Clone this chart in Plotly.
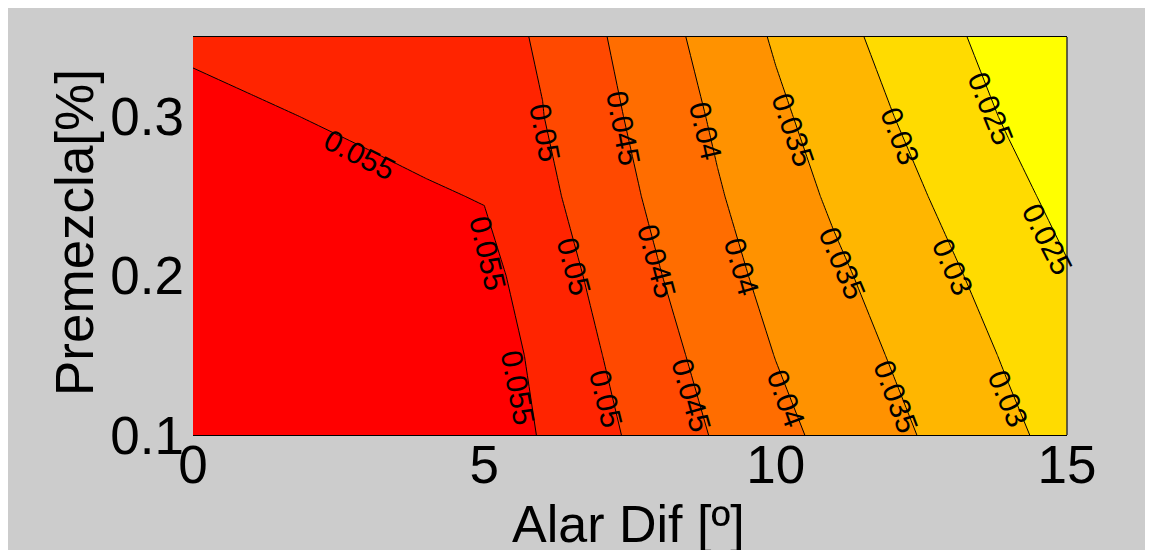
import plotly.graph_objects as go

# Alar Dif [º] grid values
alar_dif = [0, 1, 2, 3, 4, 5, 6, 7, 8, 9, 10, 11, 12, 13, 14, 15]
# Premezcla [%] grid values
premezcla = [0.10, 0.15, 0.20, 0.25, 0.30, 0.35]

# z values (rows follow premezcla, columns follow alar_dif)
z_p010 = [0.0631, 0.0625, 0.0619, 0.0613, 0.0606, 0.0600, 0.0544, 0.0512, 0.0478, 0.0445, 0.0414, 0.0386, 0.0361, 0.0335, 0.0309, 0.0284]
z_p015 = [0.0613, 0.0607, 0.0601, 0.0595, 0.0589, 0.0583, 0.0535, 0.0501, 0.0466, 0.0431, 0.0399, 0.0373, 0.0347, 0.0321, 0.0295, 0.0269]
z_p020 = [0.0596, 0.0590, 0.0584, 0.0578, 0.0571, 0.0565, 0.0525, 0.0489, 0.0452, 0.0416, 0.0386, 0.0359, 0.0332, 0.0306, 0.0280, 0.0254]
z_p025 = [0.0578, 0.0572, 0.0566, 0.0560, 0.0554, 0.0548, 0.0512, 0.0475, 0.0439, 0.0404, 0.0373, 0.0343, 0.0316, 0.0290, 0.0263, 0.0236]
z_p030 = [0.0561, 0.0555, 0.0549, 0.0543, 0.0536, 0.0530, 0.0501, 0.0464, 0.0428, 0.0393, 0.0359, 0.0329, 0.0301, 0.0273, 0.0245, 0.0216]
z_p035 = [0.0543, 0.0537, 0.0531, 0.0525, 0.0519, 0.0513, 0.0496, 0.0454, 0.0417, 0.0380, 0.0345, 0.0315, 0.0286, 0.0258, 0.0230, 0.0201]

# contour level labels as printed on the chart (text, Alar Dif, Premezcla, angle)
label_text = ["0.055", "0.055", "0.055", "0.05", "0.05", "0.05", "0.045", "0.045", "0.045",
              "0.04", "0.04", "0.04", "0.035", "0.035", "0.035", "0.03", "0.03", "0.03",
              "0.025", "0.025"]
label_x = [2.85, 5.06, 5.58, 6.04, 6.54, 7.09, 7.38, 7.96, 8.56,
           8.79, 9.42, 10.18, 10.30, 11.15, 12.06, 12.13, 13.04, 13.99,
           13.69, 14.67]
label_y = [0.276, 0.214, 0.130, 0.290, 0.206, 0.123, 0.293, 0.209, 0.125,
           0.291, 0.206, 0.123, 0.292, 0.208, 0.124, 0.288, 0.206, 0.123,
           0.305, 0.223]
label_angle = [27, 77, 79, 79, 75, 76, 79, 75, 74,
               77, 74, 70, 71, 67, 69, 69, 66, 67,
               68, 63]

x_ticks = [0, 5, 10, 15]
x_tick_labels = ["0", "5", "10", "15"]
y_ticks = [0.1, 0.2, 0.3]
y_tick_labels = ["0.1", "0.2", "0.3"]

x_title = "Alar Dif [º]"
y_title = "Premezcla[%]"

FONT = "Liberation Sans, Arial, sans-serif"
W, H = 1153, 550
L, R, T, B = 185, 94, 29, 123
pw, ph = W - L - R, H - T - B

def px_x(p):
    return (p - L) / pw

def px_y(p):
    return (H - B - p) / ph

fig = go.Figure()
fig.add_trace(go.Contour(
    x=alar_dif,
    y=premezcla,
    z=[z_p010, z_p015, z_p020, z_p025, z_p030, z_p035],
    autocontour=False,
    contours=dict(start=0.025, end=0.0551, size=0.005, coloring="fill",
                  showlabels=False),
    colorscale=[[0, "rgb(255,255,0)"], [1, "rgb(255,0,0)"]],
    line=dict(color="black", width=1, smoothing=0),
    showscale=False,
    hoverinfo="skip",
))

annotations = []
for t, lx, ly, a in zip(label_text, label_x, label_y, label_angle):
    annotations.append(dict(text=t, x=lx, y=ly, xref="x", yref="y",
                            textangle=a, showarrow=False,
                            xanchor="center", yanchor="middle",
                            font=dict(family=FONT, size=30, color="black")))

annotations += [
    dict(text=x_title, xref="paper", yref="paper", x=px_x(620), y=px_y(516),
         xanchor="center", yanchor="middle", showarrow=False,
         font=dict(family=FONT, size=52, color="black")),
    dict(text=y_title, xref="paper", yref="paper", x=px_x(66), y=px_y(225),
         xanchor="center", yanchor="middle", textangle=-90, showarrow=False,
         font=dict(family=FONT, size=53, color="black")),
]

fig.update_layout(
    width=W, height=H,
    margin=dict(l=L, r=R, t=T, b=B, autoexpand=False),
    paper_bgcolor="#cccccc",
    plot_bgcolor="#cccccc",
    showlegend=False,
    xaxis=dict(range=[0, 15], tickvals=x_ticks, ticktext=x_tick_labels,
               tickfont=dict(family=FONT, size=53, color="black"),
               showgrid=False, zeroline=False, showline=True, mirror=True,
               linecolor="black", linewidth=1, ticks="", ticklabelstandoff=-17,
               fixedrange=True),
    yaxis=dict(range=[0.1, 0.35], tickvals=y_ticks, ticktext=y_tick_labels,
               tickfont=dict(family=FONT, size=53, color="black"),
               showgrid=False, zeroline=False, showline=False,
               ticks="", ticklabelstandoff=8, fixedrange=True),
    shapes=[
        dict(type="line", xref="paper", yref="paper", x0=1, x1=1, y0=0, y1=1,
             line=dict(color="#333333", width=1.5), layer="above"),
    ],
    annotations=annotations,
)

fig.write_html("out.html")
